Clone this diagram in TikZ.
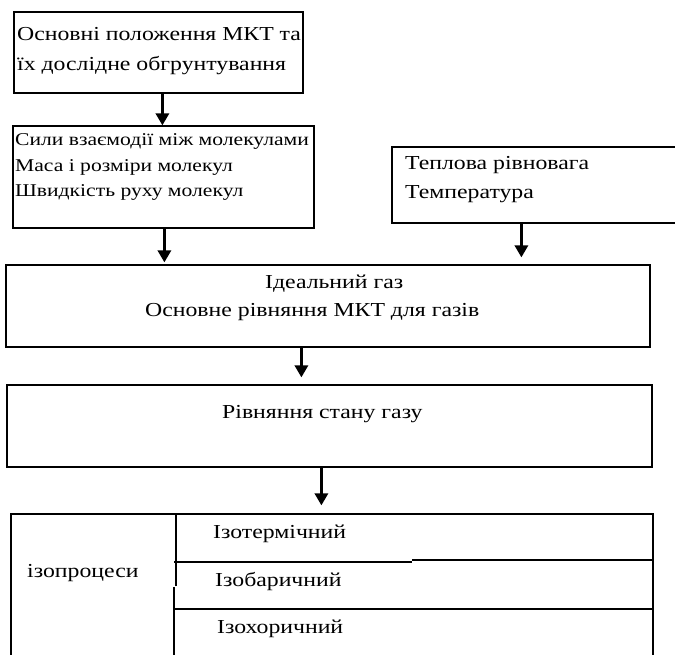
\documentclass[tikz,border=0pt]{standalone}
\usepackage{fontspec}
\setmainfont{Liberation Serif}[FakeStretch=1.2]
\usetikzlibrary{arrows.meta}

\newcommand{\bigtxt}{\fontsize{19.8}{28}\selectfont}
\newcommand{\smalltxt}{\fontsize{18}{24}\selectfont}

\tikzset{
    box/.style={draw, line width=1.2pt, inner sep=0pt},
    txt/.style={anchor=base west, inner sep=0pt, font=\bigtxt},
    flow/.style={-{Triangle[length=12pt, width=13pt]}, line width=3.5pt},
    rule/.style={line width=1.2pt}
}

\begin{document}
\begin{tikzpicture}[x=1pt, y=-1pt]
    \useasboundingbox (0,0) rectangle (675,654);
    \clip (0,0) rectangle (675,654);
    % Upper blocks
    \node[box, minimum width=289pt, minimum height=81pt] (mkt) at (158.5,52.5) {};
    \node[txt] (mkt1) at (17,40) {Основні положення МКТ та};
    \node[txt] (mkt2) at (17,70) {їх дослідне обгрунтування};
    \node[box, minimum width=301pt, minimum height=102pt] (mol) at (163.5,177) {};
    \node[txt, font=\smalltxt] (mol1) at (15,145) {Сили взаємодії між молекулами};
    \node[txt, font=\smalltxt] (mol2) at (15,171) {Маса і розміри молекул};
    \node[txt, font=\smalltxt] (mol3) at (15,196) {Швидкість руху молекул};
    \node[box, minimum width=300pt, minimum height=76pt] (heat) at (542,185) {};
    \node[txt] (heat1) at (405,169) {Теплова рівновага};
    \node[txt] (heat2) at (405,198) {Температура};
    % Ideal gas
    \node[box, minimum width=644pt, minimum height=82pt] (ideal) at (328,306) {};
    \node[txt] (ideal1) at (265,288) {Ідеальний газ};
    \node[txt] (ideal2) at (145,316) {Основне рівняння МКТ для газів};
    % Equation of state
    \node[box, minimum width=645pt, minimum height=82pt] (state) at (329.5,426) {};
    \node[txt] (state1) at (222,418) {Рівняння стану газу};
    % Isoprocesses
    \node[box, minimum width=642pt, minimum height=172pt] (iso) at (332,600) {};
    \node[txt] (iso0) at (27,577) {ізопроцеси};
    \node[txt] (iso1) at (213,538) {Ізотермічний};
    \node[txt] (iso2) at (215,586) {Ізобаричний};
    \node[txt] (iso3) at (217,633) {Ізохоричний};
    \draw[rule] (176,514) -- (176,586);
    \draw[rule] (174,587) -- (174,660);
    \draw[rule] (174,562) -- (412,562);
    \draw[rule] (412,560) -- (653,560);
    \draw[rule] (174,609) -- (653,609);
    % Arrows
    \draw[flow] ([xshift=149pt]mkt.south west) -- ([xshift=150pt]mol.north west);
    \draw[flow, shorten >=2pt] ([xshift=152pt]mol.south west) -- ([xshift=159pt]ideal.north west);
    \draw[flow, shorten >=7pt] ([xshift=130pt]heat.south west) -- ([xshift=516pt]ideal.north west);
    \draw[flow, shorten >=7pt] ([xshift=296pt]ideal.south west) -- ([xshift=295pt]state.north west);
    \draw[flow, shorten >=8pt] ([xshift=315pt]state.south west) -- ([xshift=311pt]iso.north west);
\end{tikzpicture}
\end{document}
